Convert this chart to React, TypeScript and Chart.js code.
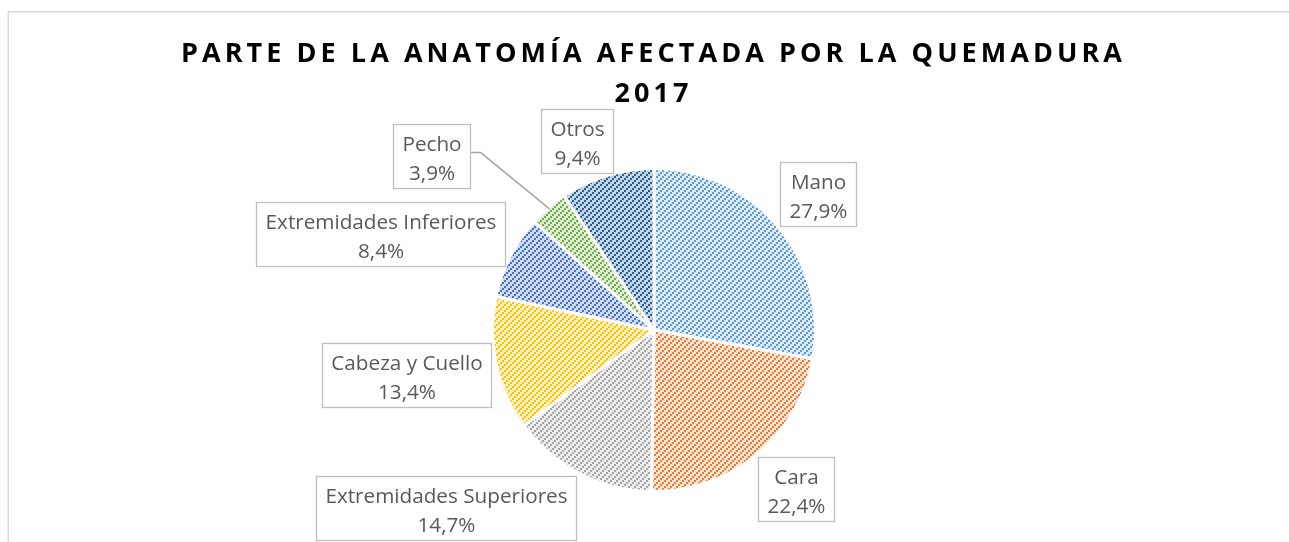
import { useEffect, useRef } from "react";
import { Chart, registerables } from "chart.js";

Chart.register(...registerables);

// ---- data ----
const categories = [
  "Mano",
  "Cara",
  "Extremidades Superiores",
  "Cabeza y Cuello",
  "Extremidades Inferiores",
  "Pecho",
  "Otros",
];
const values = [27.9, 22.4, 14.7, 13.4, 8.4, 3.9, 9.4];
const valueLabels = ["27,9%", "22,4%", "14,7%", "13,4%", "8,4%", "3,9%", "9,4%"];
const titleLines = ["PARTE DE LA ANATOMÍA AFECTADA POR LA QUEMADURA", "2017"];

// ---- styles ----
const stripeColors = ["#5B9BD5", "#ED7D31", "#A5A5A5", "#FFC000", "#4472C4", "#70AD47", "#255E91"];
const tintColors = ["#DCE9F6", "#FCE2D3", "#EDEDED", "#FFF0C2", "#D0DBF1", "#DDECD2", "#C3D4E6"];
const leaderExtra = [0, 0, 0, 0, 0, 88, 0];
const leaderAngleDeg = [0, 0, 0, 0, 0, -3.5, 0];

function makePattern(fg: string, bg: string): CanvasPattern | string {
  const c = document.createElement("canvas");
  c.width = 6;
  c.height = 6;
  const x = c.getContext("2d");
  if (!x) return fg;
  x.fillStyle = bg;
  x.fillRect(0, 0, 6, 6);
  x.fillStyle = fg;
  x.fillRect(0, 4, 2, 2);
  x.fillRect(2, 2, 2, 2);
  x.fillRect(4, 0, 2, 2);
  const p = x.createPattern(c, "repeat");
  return p || fg;
}

const clamp = (v: number) => Math.max(-1, Math.min(1, v));

const decorPlugin = {
  id: "decor",
  beforeDraw(chart: any) {
    const ctx = chart.ctx as CanvasRenderingContext2D;
    ctx.save();
    ctx.fillStyle = "#ffffff";
    ctx.fillRect(0, 0, chart.width, chart.height);
    ctx.strokeStyle = "#D9D9D9";
    ctx.lineWidth = 1.5;
    ctx.beginPath();
    ctx.moveTo(8.25, chart.height);
    ctx.lineTo(8.25, 11.75);
    ctx.lineTo(chart.width, 11.75);
    ctx.stroke();
    ctx.restore();
  },
  afterDatasetsDraw(chart: any) {
    const ctx = chart.ctx as CanvasRenderingContext2D;
    ctx.save();
    // title
    ctx.fillStyle = "#000000";
    ctx.font = 'bold 27px "Open Sans"';
    ctx.textBaseline = "alphabetic";
    ctx.textAlign = "left";
    const targetW = 941;
    const raw = ctx.measureText(titleLines[0]).width;
    const spacing = (targetW - raw) / (titleLines[0].length - 1);
    (ctx as any).letterSpacing = spacing + "px";
    const cxTitle = 651.5;
    ctx.fillText(titleLines[0], cxTitle - targetW / 2, 62);
    const w2 = ctx.measureText(titleLines[1]).width - spacing;
    ctx.fillText(titleLines[1], cxTitle - w2 / 2, 102);
    (ctx as any).letterSpacing = "0px";

    // labels
    const meta = chart.getDatasetMeta(0);
    ctx.font = '20.7px "Open Sans"';
    const lineH = 29;
    const padX = 9;
    const padY = 3;
    meta.data.forEach((arc: any, i: number) => {
      const { x, y, startAngle, endAngle, outerRadius } = arc.getProps(
        ["x", "y", "startAngle", "endAngle", "outerRadius"],
        true
      );
      const mid = (startAngle + endAngle) / 2;
      const dx = Math.cos(mid);
      const dy = Math.sin(mid);
      const r = outerRadius - 1.5;
      const px = x + dx * r;
      const py = y + dy * r;
      const t1 = categories[i];
      const t2 = valueLabels[i];
      const tw = Math.max(ctx.measureText(t1).width, ctx.measureText(t2).width);
      const bw = Math.round(tw + padX * 2);
      const bh = lineH * 2 + padY * 2;
      let cx: number;
      let cy: number;
      const gap = 4;
      if (leaderExtra[i] > 0) {
        const la = mid + (leaderAngleDeg[i] * Math.PI) / 180;
        const ex = x + Math.cos(la) * (r + leaderExtra[i]);
        const ey = y + Math.sin(la) * (r + leaderExtra[i]);
        const edgeX = dx < 0 ? ex - 11 : ex + 11;
        cx = dx < 0 ? edgeX - bw / 2 : edgeX + bw / 2;
        cy = ey + 3;
        ctx.strokeStyle = "#A6A6A6";
        ctx.lineWidth = 1.5;
        ctx.beginPath();
        ctx.moveTo(px, py);
        ctx.lineTo(ex, ey);
        ctx.lineTo(edgeX, ey);
        ctx.stroke();
      } else {
        cx = px + dx * gap + (bw / 2) * clamp(2.5 * dx) - (dx < 0 ? 3 : 0);
        cy = py + dy * gap + (bh / 2) * clamp(1.5 * dy);
      }
      const bx = Math.round(cx - bw / 2) + 0.5;
      const by = Math.round(cy - bh / 2) + 0.5;
      ctx.fillStyle = "#ffffff";
      ctx.fillRect(bx, by, bw, bh);
      ctx.strokeStyle = "#BFBFBF";
      ctx.lineWidth = 1.3;
      ctx.strokeRect(bx, by, bw, bh);
      ctx.fillStyle = "#595959";
      ctx.textAlign = "center";
      ctx.fillText(t1, bx + bw / 2, by + padY + 23);
      ctx.fillText(t2, bx + bw / 2, by + padY + 23 + lineH);
    });
    ctx.restore();
  },
};

export default function App() {
  const ref = useRef<HTMLCanvasElement | null>(null);
  useEffect(() => {
    if (!ref.current) return;
    const patterns = stripeColors.map((c, i) => makePattern(c, tintColors[i]));
    const chart = new Chart(ref.current, {
      type: "pie",
      data: {
        labels: categories,
        datasets: [
          {
            data: values,
            backgroundColor: patterns as any,
            borderColor: "#ffffff",
            borderWidth: 3,
          },
        ],
      },
      options: {
        responsive: false,
        animation: false,
        layout: { padding: { left: 491, right: 472, top: 167, bottom: 49 } },
        plugins: {
          legend: { display: false },
          title: { display: false },
          tooltip: { enabled: false },
        },
      },
      plugins: [decorPlugin],
    });
    return () => chart.destroy();
  }, []);
  return (
    <div style={{ position: "fixed", left: 0, top: 0, width: 1289, height: 542, background: "#fff" }}>
      <canvas ref={ref} width={1289} height={542} style={{ display: "block" }} />
    </div>
  );
}
